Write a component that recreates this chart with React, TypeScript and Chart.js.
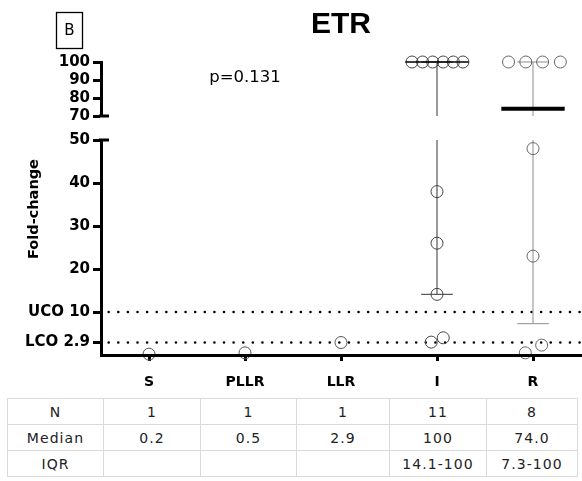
import React, { useEffect, useRef } from 'react';
import { Chart, registerables } from 'chart.js';

Chart.register(...registerables);

// ---------- data ----------
const categories = ['S', 'PLLR', 'LLR', 'I', 'R'];
const valuesS = [0.2];
const valuesPLLR = [0.5];
const valuesLLR = [2.9];
const valuesI = [100, 100, 100, 100, 100, 100, 38, 26, 14.1, 3.0, 4.0];
const valuesR = [100, 100, 100, 100, 48, 23, 0.5, 2.3];
const jitterS = [0];
const jitterPLLR = [0];
const jitterLLR = [0];
const jitterI = [-0.26, -0.15, -0.045, 0.065, 0.17, 0.27, 0, 0, 0, -0.06, 0.065];
const jitterR = [-0.255, -0.075, 0.1, 0.285, 0, 0, -0.08, 0.09];
const medians = [0.2, 0.5, 2.9, 100, 74.0];
const q1 = [null, null, null, 14.1, 7.3];
const q3 = [null, null, null, 100, 100];
const cutoffs = [2.9, 10];
const topTicks = [70, 80, 90, 100];
const topTickLabels = ['70', '80', '90', '100'];
const bottomTicks = [2.9, 10, 20, 30, 40, 50];
const bottomTickLabels = ['LCO 2.9', 'UCO 10', '20', '30', '40', '50'];
const tableN = ['1', '1', '1', '11', '8'];
const tableMedian = ['0.2', '0.5', '2.9', '100', '74.0'];
const tableIQR = ['', '', '', '14.1-100', '7.3-100'];
const titleText = 'ETR';
const panelLabel = 'B';
const pValueText = 'p=0.131';
const yAxisTitle = 'Fold-change';

const TOP_MIN = 70;
const TOP_MAX = 100;
const BOT_MIN = 0;
const BOT_MAX = 50;

const allValues = [valuesS, valuesPLLR, valuesLLR, valuesI, valuesR];
const allJitter = [jitterS, jitterPLLR, jitterLLR, jitterI, jitterR];

const pointColors = ['#555', '#555', '#555', '#444', '#666'];
const whiskerColors = ['#888', '#888', '#888', '#555', '#a0a0a0'];
const medianWidths = [0, 0, 0, 1.5, 4];

function buildDatasets() {
  const ds: any[] = [];
  const lineBase = {
    type: 'line',
    xAxisID: 'x',
    pointRadius: 0,
    fill: false,
    clip: false,
    tension: 0,
  };
  categories.forEach((_, i) => {
    const vals = allValues[i];
    const jit = allJitter[i];
    const pts = vals.map((v, k) => ({ x: i + jit[k], y: v }));
    const bot = pts.filter((p) => p.y <= BOT_MAX);
    const top = pts.filter((p) => p.y >= TOP_MIN);
    const pointBase = {
      type: 'scatter',
      xAxisID: 'x',
      pointRadius: 6,
      pointBorderWidth: 1,
      pointBorderColor: pointColors[i],
      pointBackgroundColor: 'rgba(0,0,0,0)',
      showLine: false,
      clip: false,
      order: 1,
    };
    if (bot.length) ds.push({ ...pointBase, data: bot, yAxisID: 'yBot' });
    if (top.length) ds.push({ ...pointBase, data: top, yAxisID: 'yTop' });

    const lo = q1[i];
    const hi = q3[i];
    if (lo !== null && hi !== null) {
      const wl = { ...lineBase, borderColor: whiskerColors[i], borderWidth: 1.2, order: 2 };
      if (lo < BOT_MAX) {
        ds.push({ ...wl, yAxisID: 'yBot', data: [{ x: i, y: lo }, { x: i, y: Math.min(hi, BOT_MAX) }] });
        ds.push({ ...wl, yAxisID: 'yBot', data: [{ x: i - 0.165, y: lo }, { x: i + 0.165, y: lo }] });
      }
      if (hi > TOP_MIN) {
        ds.push({ ...wl, yAxisID: 'yTop', data: [{ x: i, y: Math.max(lo, TOP_MIN) }, { x: i, y: hi }] });
        ds.push({ ...wl, yAxisID: 'yTop', data: [{ x: i - 0.165, y: hi }, { x: i + 0.165, y: hi }] });
      }
    }
    if (vals.length > 1) {
      const m = medians[i];
      ds.push({
        ...lineBase,
        yAxisID: m >= TOP_MIN ? 'yTop' : 'yBot',
        borderColor: '#000',
        borderWidth: medianWidths[i],
        order: 0,
        data: [{ x: i - 0.33, y: m }, { x: i + 0.33, y: m }],
      });
    }
  });
  cutoffs.forEach((c) => {
    ds.push({
      ...lineBase,
      yAxisID: 'yBot',
      borderColor: '#000',
      borderWidth: 2.6,
      borderDash: [0.01, 9.6],
      borderCapStyle: 'round',
      order: 3,
      data: [{ x: -0.42, y: c }, { x: 4.5, y: c }],
    });
  });
  return ds;
}

const annotationPlugin = {
  id: 'annotations',
  afterDraw(chart: any) {
    const ctx = chart.ctx;
    const area = chart.chartArea;
    const xs = chart.scales.x;
    const yTop = chart.scales.yTop;
    const yBot = chart.scales.yBot;
    ctx.save();
    // panel label box
    ctx.strokeStyle = '#000';
    ctx.lineWidth = 1.3;
    ctx.strokeRect(56.5, 12.5, 26, 36);
    ctx.fillStyle = '#000';
    ctx.font = '15px "DejaVu Sans"';
    ctx.textAlign = 'center';
    ctx.textBaseline = 'middle';
    ctx.fillText(panelLabel, 69.5, 31);
    // p value
    ctx.font = '16.5px "DejaVu Sans"';
    ctx.fillText(pValueText, xs.getPixelForValue(1), yTop.getPixelForValue(91.5));
    // axis title
    ctx.save();
    ctx.translate(34, 209);
    ctx.rotate(-Math.PI / 2);
    ctx.font = 'bold 14.5px "DejaVu Sans"';
    ctx.fillText(yAxisTitle, 0, 0);
    ctx.restore();
    // axis break caps
    ctx.strokeStyle = '#000';
    ctx.lineWidth = 3;
    ctx.beginPath();
    const yb = yTop.getPixelForValue(TOP_MIN);
    ctx.moveTo(area.left - 2, yb);
    ctx.lineTo(area.left + 8, yb);
    const yt = yBot.getPixelForValue(BOT_MAX);
    ctx.moveTo(area.left - 2, yt);
    ctx.lineTo(area.left + 8, yt);
    ctx.stroke();
    ctx.restore();
  },
};

function yAxis(weight: number, min: number, max: number, ticks: number[], labels: string[]) {
  return {
    type: 'linear',
    position: 'left',
    stack: 'y',
    stackWeight: weight,
    min,
    max,
    afterBuildTicks: (s: any) => {
      s.ticks = ticks.map((v) => ({ value: v }));
    },
    afterFit: (s: any) => {
      s.width = 101;
    },
    ticks: {
      callback: (v: any) => labels[ticks.indexOf(v)] ?? '',
      color: '#000',
      font: { family: 'DejaVu Sans', weight: 'bold', size: 15 },
      padding: 3,
      autoSkip: false,
    },
    grid: {
      display: true,
      drawOnChartArea: false,
      drawTicks: true,
      tickLength: 8,
      tickWidth: 3,
      tickColor: '#000',
    },
    border: { display: true, width: 3, color: '#000' },
  };
}

export default function App() {
  const ref = useRef<HTMLCanvasElement | null>(null);
  useEffect(() => {
    if (!ref.current) return;
    const chart = new Chart(ref.current, {
      type: 'scatter',
      data: { datasets: buildDatasets() } as any,
      options: {
        animation: false,
        responsive: false,
        devicePixelRatio: 1,
        layout: { autoPadding: false, padding: { left: 0, right: 1, top: 0, bottom: 0 } },
        plugins: {
          legend: { display: false },
          tooltip: { enabled: false },
          title: {
            display: true,
            text: titleText,
            fullSize: false,
            color: '#000',
            font: { family: 'Liberation Sans', weight: 'bold', size: 30 },
            padding: { top: 7, bottom: 19 },
          },
        },
        scales: {
          x: {
            type: 'linear',
            position: 'bottom',
            min: -0.5,
            max: 4.5,
            afterBuildTicks: (s: any) => {
              s.ticks = categories.map((_, i) => ({ value: i }));
            },
            afterFit: (s: any) => {
              s.height = 40;
            },
            ticks: {
              callback: (v: any) => categories[Math.round(v)] ?? '',
              color: '#000',
              font: { family: 'DejaVu Sans', weight: 'bold', size: 14 },
              padding: 13,
              maxRotation: 0,
              autoSkip: false,
            },
            grid: {
              display: true,
              drawOnChartArea: false,
              drawTicks: true,
              tickLength: 6,
              tickWidth: 3,
              tickColor: '#000',
            },
            border: { display: true, width: 3, color: '#000', z: 1 },
          },
          yBot: yAxis(215, BOT_MIN, BOT_MAX, bottomTicks, bottomTickLabels),
          yGap: {
            type: 'linear',
            position: 'left',
            stack: 'y',
            stackWeight: 24,
            afterFit: (s: any) => {
              s.width = 101;
            },
            ticks: { display: false },
            grid: { display: false, drawTicks: false },
            border: { display: false },
          },
          yTop: yAxis(54, TOP_MIN, TOP_MAX, topTicks, topTickLabels),
        } as any,
      },
      plugins: [annotationPlugin],
    } as any);
    return () => chart.destroy();
  }, []);

  const cellStyle: React.CSSProperties = {
    border: '1.5px solid #dadada',
    textAlign: 'center',
    padding: 0,
    height: 25,
    fontFamily: '"DejaVu Sans"',
    fontSize: 14,
    letterSpacing: 1.1,
    color: '#222',
  };
  const colWidths = [96, 97, 96, 93, 97, 91];
  const rows = [
    ['N', ...tableN],
    ['Median', ...tableMedian],
    ['IQR', ...tableIQR],
  ];

  return (
    <div style={{ position: 'fixed', left: 0, top: 0, width: 582, height: 481, background: '#fff' }}>
      <canvas ref={ref} width={582} height={395} style={{ display: 'block', width: 582, height: 395 }} />
      <table
        style={{
          position: 'absolute',
          left: 7,
          top: 398,
          borderCollapse: 'collapse',
          tableLayout: 'fixed',
          width: 570,
        }}
      >
        <colgroup>
          {colWidths.map((w, i) => (
            <col key={i} style={{ width: w }} />
          ))}
        </colgroup>
        <tbody>
          {rows.map((r, ri) => (
            <tr key={ri}>
              {r.map((c, ci) => (
                <td key={ci} style={cellStyle}>
                  {c}
                </td>
              ))}
            </tr>
          ))}
        </tbody>
      </table>
    </div>
  );
}
